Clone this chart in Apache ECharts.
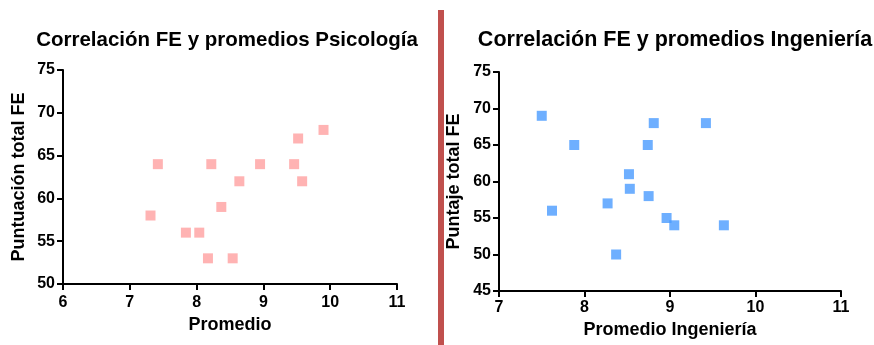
<!DOCTYPE html>
<html>
<head>
<meta charset="utf-8">
<script src="https://cdn.jsdelivr.net/npm/echarts@6/dist/echarts.min.js"></script>
<style>
  html, body { margin: 0; padding: 0; background: #fff; }
  #chart { width: 874px; height: 345px; }
</style>
</head>
<body>
<div id="chart"></div>
<script>
// Psicología: average grade vs total FE score
const psicoPromedio = [7.42, 7.31, 7.84, 8.04, 8.17, 8.54, 8.22, 8.37, 8.64, 8.95, 9.46, 9.52, 9.58, 9.90];
const psicoFE       = [64,   58,   56,   56,   53,   53,   64,   59,   62,   64,   64,   67,   62,   68];

// Ingeniería: average grade vs total FE score
const ingPromedio = [7.50, 7.62, 7.88, 8.27, 8.37, 8.52, 8.53, 8.74, 8.75, 8.81, 8.96, 9.05, 9.42, 9.63];
const ingFE       = [69,   56,   65,   57,   50,   61,   59,   65,   58,   68,   55,   54,   68,   54];

const titles = ['Correlación FE y promedios Psicología', 'Correlación FE y promedios Ingeniería'];
const xNames = ['Promedio', 'Promedio Ingeniería'];
const yNames = ['Puntuación total FE', 'Puntaje total FE'];

const FONT = '"Liberation Sans", Arial, sans-serif';

function pairs(xs, ys) { return xs.map((x, i) => [x, ys[i]]); }

const axisLineStyle = { show: true, lineStyle: { color: '#000', width: 2 } };
const tickStyle = { show: true, length: 6, lineStyle: { color: '#000', width: 2 } };
const nameStyle = { color: '#000', fontFamily: FONT, fontWeight: 'bold', fontSize: 18 };

function labelStyle(margin) {
  return { color: '#000', fontFamily: FONT, fontWeight: 'bold', fontSize: 16, margin };
}

function xAxis(gridIndex, min, max, name, labelMargin, gap) {
  return {
    type: 'value', gridIndex, min, max, interval: 1, name,
    nameLocation: 'middle', nameGap: gap, nameTextStyle: nameStyle,
    axisLine: axisLineStyle, axisTick: tickStyle, axisLabel: labelStyle(labelMargin),
    splitLine: { show: false }
  };
}
function yAxis(gridIndex, min, max, name, gap) {
  return {
    type: 'value', gridIndex, min, max, interval: 5, name,
    nameLocation: 'middle', nameGap: gap, nameTextStyle: nameStyle,
    axisLine: axisLineStyle, axisTick: tickStyle, axisLabel: labelStyle(8),
    splitLine: { show: false }
  };
}

const chart = echarts.init(document.getElementById('chart'), null, { renderer: 'canvas' });
chart.setOption({
  animation: false,
  backgroundColor: '#fff',
  title: [
    { text: titles[0], left: 222, top: 25, textAlign: 'center',
      textStyle: { fontFamily: FONT, fontWeight: 'bold', fontSize: 20.5, color: '#000' } },
    { text: titles[1], left: 670, top: 24, textAlign: 'center',
      textStyle: { fontFamily: FONT, fontWeight: 'bold', fontSize: 21.5, color: '#000' } }
  ],
  graphic: [
    { type: 'rect', shape: { x: 438, y: 10, width: 6, height: 335 }, style: { fill: '#C0504D' } }
  ],
  grid: [
    { left: 63, right: 477, top: 70, bottom: 61 },
    { left: 499, right: 33, top: 72, bottom: 54 }
  ],
  xAxis: [
    xAxis(0, 6, 11, xNames[0], 11, 32),
    xAxis(1, 7, 11, xNames[1], 9, 21)
  ],
  yAxis: [
    yAxis(0, 50, 75, yNames[0], 35),
    yAxis(1, 45, 75, yNames[1], 36)
  ],
  series: [
    { type: 'scatter', xAxisIndex: 0, yAxisIndex: 0, symbol: 'rect', symbolSize: 10,
      itemStyle: { color: '#FFA0A0' }, data: pairs(psicoPromedio, psicoFE) },
    { type: 'scatter', xAxisIndex: 1, yAxisIndex: 1, symbol: 'rect', symbolSize: 10,
      itemStyle: { color: '#4A9BFF' }, data: pairs(ingPromedio, ingFE) }
  ]
});
</script>
</body>
</html>
